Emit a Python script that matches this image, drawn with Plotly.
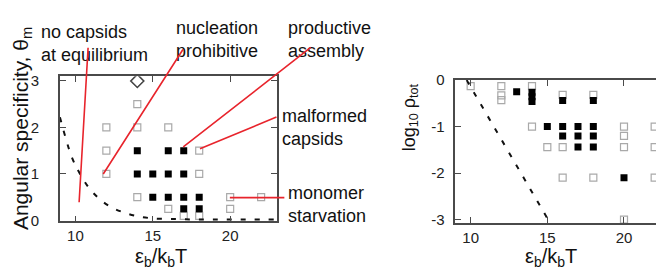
import plotly.graph_objects as go

W, H = 664, 275
FONT = "Liberation Sans, Arial, Helvetica, sans-serif"
RED = "#e8242c"
GRAY = "#a9a9a9"
AXC = "#4a4a4a"

# ---------------- data: left panel (angular specificity vs binding energy) -------------
left_open_x = [14, 12, 14, 16, 12, 18, 12, 18, 14, 20, 22, 16, 20, 17, 18]
left_open_y = [2.5, 2, 2, 2, 1.5, 1.5, 1, 1, 0.5, 0.5, 0.5, 0.25, 0.25, 0.1, 0.1]
left_fill_x = [14, 16, 17, 14, 15, 16, 17, 15, 16, 17, 18, 17, 18]
left_fill_y = [1.5, 1.5, 1.5, 1, 1, 1, 1, 0.5, 0.5, 0.5, 0.5, 0.25, 0.25]
left_diamond_x = [14]
left_diamond_y = [3]
left_theory_x = [9.0, 9.76, 10.3, 11.05, 12.13, 13.42, 14.82, 16.5, 18, 20, 23]
left_theory_y = [2.22, 1.37, 1.0, 0.63, 0.32, 0.14, 0.05, 0.03, 0.02, 0.02, 0.02]

# ---------------- data: right panel (log10 density vs binding energy) -----------------
right_open_x = [10, 12, 12, 12, 14, 16, 18, 14, 20, 22, 20, 15, 16, 20, 22, 16, 18, 22, 20]
right_open_y = [-0.13, -0.13, -0.33, -0.43, -0.13, -0.32, -0.32, -1, -1, -1, -1.2,
                -1.44, -1.44, -1.44, -1.44, -2.1, -2.1, -2.1, -3.0]
right_fill_x = [13, 14, 14, 14, 16, 18, 15, 16, 17, 18, 16, 17, 18, 17, 18, 20]
right_fill_y = [-0.25, -0.26, -0.36, -0.46, -0.44, -0.44, -1, -1, -1, -1,
                -1.2, -1.2, -1.2, -1.44, -1.44, -2.1]
right_theory_x = [9.74, 15.1]
right_theory_y = [0.0, -3.03]

x_ticks = [10, 15, 20]
left_y_ticks = [0, 1, 2, 3]
right_y_ticks = [0, -1, -2, -3]
right_y_ticktext = ["0", "-1", "-2", "-3"]

# annotation labels: (text, left px, top px) and red pointer lines (tip data x, y, tail offset px)
labels = [
    ("no capsids<br>at equilibrium", 31, 3),
    ("nucleation<br>prohibitive", 166, -1),
    ("productive<br>assembly", 278, -1),
    ("malformed<br>capsids", 272, 92),
    ("monomer<br>starvation", 278, 174),
]
pointers = [
    (10.24, 0.39, 9, -155),
    (11.8, 1.0, 80, -125),
    (16.97, 1.58, 128, -100),
    (18.05, 1.54, 77, -32),
    (19.98, 0.49, 55, 0),
]


def px(x):
    return x / W


def py(y):
    return 1 - y / H


fig = go.Figure()

# left panel
fig.add_trace(go.Scatter(x=left_open_x, y=left_open_y, mode="markers", xaxis="x", yaxis="y",
                         marker=dict(symbol="square-open", size=7, color=GRAY, line=dict(width=1.2, color=GRAY))))
fig.add_trace(go.Scatter(x=left_fill_x, y=left_fill_y, mode="markers", xaxis="x", yaxis="y",
                         marker=dict(symbol="square", size=7, color="black", line=dict(width=0))))
fig.add_trace(go.Scatter(x=left_diamond_x, y=left_diamond_y, mode="markers", xaxis="x", yaxis="y",
                         marker=dict(symbol="diamond-open", size=10, color="#444", line=dict(width=1.6, color="#444"))))
fig.add_trace(go.Scatter(x=left_theory_x, y=left_theory_y, mode="lines", xaxis="x", yaxis="y",
                         line=dict(color="#111", width=2, dash="5px,9px", shape="spline")))

# right panel
fig.add_trace(go.Scatter(x=right_open_x, y=right_open_y, mode="markers", xaxis="x2", yaxis="y2",
                         marker=dict(symbol="square-open", size=7, color=GRAY, line=dict(width=1.2, color=GRAY))))
fig.add_trace(go.Scatter(x=right_fill_x, y=right_fill_y, mode="markers", xaxis="x2", yaxis="y2",
                         marker=dict(symbol="square", size=7, color="black", line=dict(width=0))))
fig.add_trace(go.Scatter(x=right_theory_x, y=right_theory_y, mode="lines", xaxis="x2", yaxis="y2",
                         line=dict(color="#111", width=2, dash="5px,9px")))

axis_common = dict(showline=True, linecolor=AXC, linewidth=1.6, mirror="ticks", ticks="inside",
                   ticklen=6, tickwidth=1.3, tickcolor=AXC, showgrid=False, zeroline=False,
                   tickfont=dict(size=15, color="#222", family=FONT), fixedrange=True)

fig.update_layout(
    width=W, height=H,
    margin=dict(l=0, r=0, t=0, b=0),
    paper_bgcolor="white", plot_bgcolor="white",
    showlegend=False,
    font=dict(family=FONT, color="#111"),
    xaxis=dict(domain=[px(52), px(269)], range=[9, 23], tickvals=x_ticks, anchor="y",
               ticklabelstandoff=0, **axis_common),
    yaxis=dict(domain=[py(217), py(63)], range=[-0.02, 3.1], tickvals=left_y_ticks, anchor="x",
               ticklabelstandoff=16, **axis_common),
    xaxis2=dict(domain=[px(448), px(663)], range=[9, 23], tickvals=x_ticks, anchor="y2",
                ticklabelstandoff=0, **axis_common),
    yaxis2=dict(domain=[py(219), py(67)], range=[-3.08, 0.0], tickvals=right_y_ticks,
                ticktext=right_y_ticktext, anchor="x2", ticklabelstandoff=6, **axis_common),
)

ann = []
# axis titles
ann.append(dict(text="ε<sub>b</sub>/k<sub>b</sub>T", x=px(153), y=py(255), xref="paper", yref="paper",
                showarrow=False, xanchor="center", yanchor="middle", font=dict(size=20)))
ann.append(dict(text="ε<sub>b</sub>/k<sub>b</sub>T", x=px(544), y=py(255), xref="paper", yref="paper",
                showarrow=False, xanchor="center", yanchor="middle", font=dict(size=20)))
ann.append(dict(text="Angular specificity, θ<sub>m</sub>", x=px(14), y=py(118), xref="paper", yref="paper",
                showarrow=False, xanchor="center", yanchor="middle", textangle=-90, font=dict(size=21)))
ann.append(dict(text="log<sub>10</sub> ρ<sub>tot</sub>", x=px(403), y=py(106), xref="paper", yref="paper",
                showarrow=False, xanchor="center", yanchor="middle", textangle=-90, font=dict(size=18)))

for text, lx, ty in labels:
    ann.append(dict(text=text, x=px(lx), y=py(ty), xref="paper", yref="paper", showarrow=False,
                    xanchor="left", yanchor="top", align="left", font=dict(size=18, color="#111")))

for tx, ty, ax, ay in pointers:
    ann.append(dict(text="", x=tx, y=ty, xref="x", yref="y", showarrow=True, arrowhead=0,
                    arrowwidth=1.6, arrowcolor=RED, ax=ax, ay=ay, standoff=0, startstandoff=0,
                    borderpad=0))

fig.update_layout(annotations=ann)

fig.write_html("out.html")
